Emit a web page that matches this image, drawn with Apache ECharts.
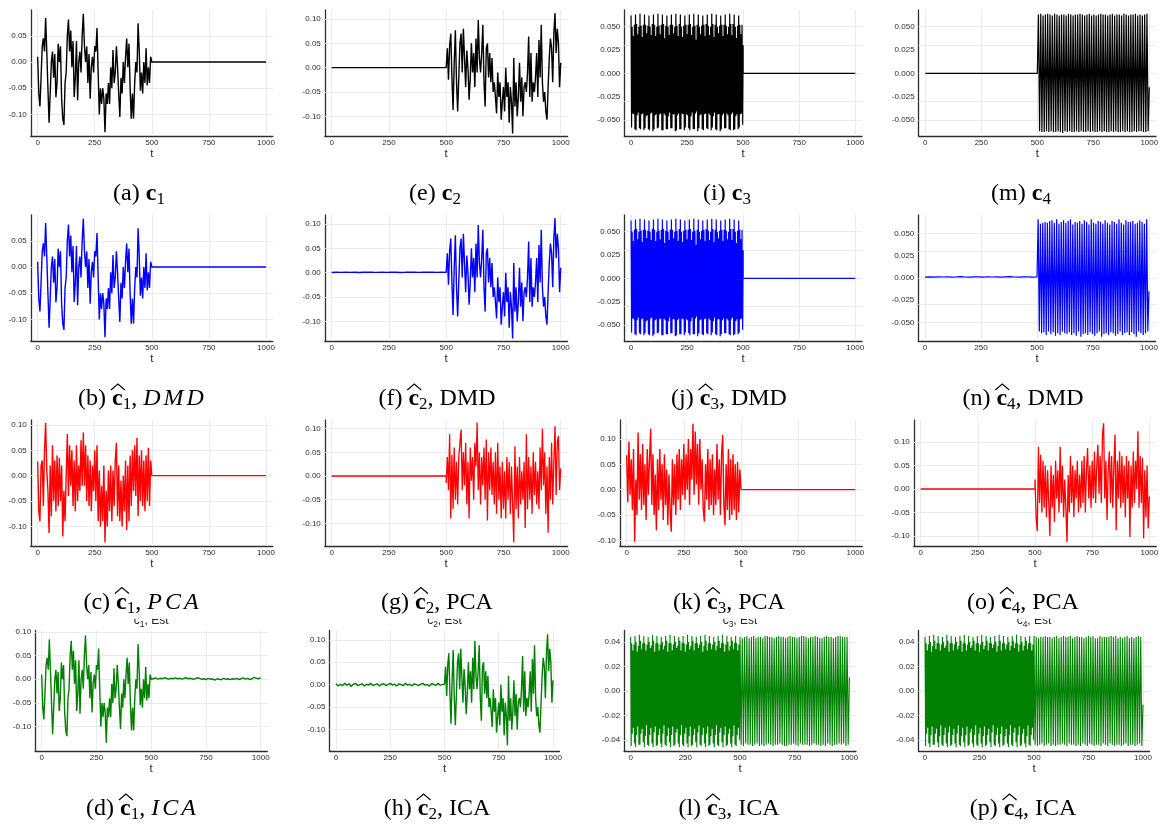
<!DOCTYPE html>
<html>
<head>
<meta charset="utf-8">
<title>Source separation: true and estimated components</title>
<script src="https://cdn.jsdelivr.net/npm/echarts@6/dist/echarts.min.js"></script>
<style>
  html, body { margin: 0; padding: 0; background: #ffffff; }
  #chart { width: 1160px; height: 824px; }
</style>
</head>
<body>
<div id="chart"></div>
<script>
// ---------------------------------------------------------------------------
// Signals (time t = 0 .. 1000). Each array is sampled evenly over the time
// span it is attached to in PANELS below.
// ---------------------------------------------------------------------------
const FLAT = [0, 0];

// c1: active on 0..500 (step 5)
const C1 = [
  .010,-.060,-.085,-.030,.030,.045,.020,.084,.020,-.050,
  -.116,-.060,.000,.020,-.030,.015,-.067,-.040,.035,.000,
  .030,-.070,-.108,-.120,-.040,-.020,.050,.081,.020,.060,
  -.010,.040,-.067,-.030,.040,-.073,.000,.020,-.020,.050,
  .092,.030,.000,.030,-.040,.015,-.070,-.010,.010,-.020,
  .030,.020,.065,-.020,-.100,-.050,-.080,-.050,-.070,-.134,
  -.060,-.080,-.040,-.080,-.010,-.050,.023,-.040,-.020,.030,
  -.010,-.060,-.105,-.030,-.060,.000,-.040,.010,.045,-.010,
  .035,-.050,-.108,-.060,-.108,-.040,.000,-.020,.074,.020,
  -.055,-.020,-.060,.000,-.040,.026,-.045,-.010,-.040,.010,
  .000
];

// c2: active on 500..1000 (step 5)
const C2 = [
  .000,.040,-.025,.045,.070,-.020,-.087,.010,.077,-.030,
  -.090,-.020,.050,.070,-.010,.080,.020,-.040,.035,.000,
  -.066,-.020,.050,-.010,.030,-.040,.060,-.010,.098,.020,
  -.010,.030,.088,-.030,-.080,.040,.050,-.020,.030,-.030,
  .020,-.050,-.030,-.060,-.094,-.010,-.060,-.030,-.107,-.070,
  -.040,-.090,.000,-.060,-.030,-.113,-.040,-.070,-.135,.020,
  -.080,-.030,-.100,-.060,.010,-.070,-.020,-.100,-.040,-.030,
  -.050,-.010,.064,-.060,.030,-.070,-.030,-.050,-.020,.030,
  -.060,.057,-.020,.088,-.030,-.070,-.050,-.090,-.107,-.040,
  .020,.060,.040,-.030,.070,.112,.030,.080,.050,-.040,
  .010
];

// c3: fast carrier with a beating envelope, active on 0..500 (step 2.5)
const C3 = [
  .062,-.058,.050,-.043,.040,-.044,.052,-.060,
  .063,-.061,.053,-.045,.042,-.042,.050,-.059,
  .064,-.060,.051,-.044,.039,-.043,.052,-.061,
  .063,-.059,.052,-.046,.043,-.045,.051,-.060,
  .062,-.061,.050,-.043,.041,-.042,.053,-.062,
  .063,-.060,.052,-.045,.040,-.044,.050,-.059,
  .064,-.058,.051,-.044,.042,-.043,.052,-.061,
  .063,-.061,.053,-.043,.038,-.045,.051,-.060,
  .062,-.060,.050,-.046,.041,-.042,.052,-.059,
  .063,-.059,.052,-.044,.043,-.044,.050,-.062,
  .064,-.061,.051,-.045,.040,-.043,.053,-.060,
  .063,-.060,.050,-.043,.039,-.044,.051,-.061,
  .062,-.058,.052,-.044,.042,-.045,.052,-.059,
  .063,-.061,.053,-.046,.041,-.042,.050,-.060,
  .064,-.060,.051,-.043,.036,-.041,.052,-.062,
  .063,-.059,.050,-.045,.042,-.044,.051,-.060,
  .062,-.061,.052,-.044,.040,-.043,.053,-.059,
  .063,-.060,.051,-.043,.041,-.045,.050,-.061,
  .064,-.058,.053,-.046,.039,-.042,.052,-.060,
  .063,-.061,.050,-.044,.043,-.044,.051,-.062,
  .062,-.060,.052,-.045,.040,-.043,.052,-.059,
  .063,-.059,.051,-.043,.042,-.045,.050,-.060,
  .064,-.061,.053,-.044,.041,-.042,.053,-.061,
  .063,-.060,.050,-.046,.038,-.044,.051,-.060,
  .062,-.058,.052,-.044,.042,-.043,.052,-.055,
  .030
];

// c4: slower oscillation, active on 500..1000
const C4 = [
  .000,
  .063,-.062,.064,-.063,.062,-.063,.063,-.062,
  .064,-.063,.063,-.062,.062,-.063,.064,-.063,
  .063,-.062,.062,-.063,.063,-.064,.063,-.062,
  .062,-.063,.064,-.062,.063,-.063,.062,-.063,
  .063,-.062,.063,-.063,.064,-.062,.063,-.063,
  .062,-.063,.063,-.062,.064,-.063,.062,-.062,
  .063,-.063,.062,-.063,.063,-.062,.064,-.063,
  .063,-.062,.063,-.063,.062,-.063,.063,-.062,
  .064,-.063,.062,-.062,.063,-.063,.063,-.063,
  .062,-.062,.064,-.063,.063,-.062,.062,-.063,
  .063,-.063,.063,-.062,.064,-.063,.062,-.062,
  .063,-.062,.062,-.063,.063,-.063,.064,-.062,
  -.015
];

// DMD estimates (only the parts that differ from the true components)
const DMD_C2_QUIET = [
  .0004,.0009,.0006,.0011,.0007,.0010,.0005,.0009,.0012,.0008,
  .0006,.0010,.0007,.0011,.0009,.0005,.0008,.0012,.0009,.0006,
  .0010,.0008,.0011,.0007,.0009,.0006
];
const DMD_C4_QUIET = [
  .0010,.0012,.0009,.0013,.0011,.0014,.0010,.0012,.0015,.0011,
  .0009,.0013,.0012,.0010,.0014,.0011,.0013,.0009,.0012,.0015,
  .0011,.0010,.0013,.0012,.0009,.0011
];
const DMD_C4 = [
  .001,
  .066,-.060,.061,-.062,.062,-.061,.063,-.064,
  .062,-.060,.064,-.063,.065,-.061,.062,-.065,
  .066,-.062,.061,-.064,.063,-.060,.065,-.062,
  .062,-.063,.064,-.061,.066,-.064,.060,-.062,
  .063,-.065,.062,-.060,.064,-.066,.061,-.063,
  .065,-.062,.063,-.064,.060,-.061,.066,-.063,
  .062,-.065,.061,-.062,.064,-.060,.063,-.066,
  .061,-.063,.065,-.062,.062,-.064,.060,-.061,
  .064,-.062,.063,-.065,.061,-.063,.066,-.060,
  .062,-.064,.060,-.062,.065,-.061,.063,-.064,
  .063,-.061,.064,-.063,.061,-.066,.062,-.060,
  .065,-.062,.063,-.064,.061,-.062,.066,-.060,
  -.015
];

// PCA estimates
const PCA_C1 = [
  .028,-.070,-.090,.020,.030,-.060,.050,.104,.010,-.030,
  -.113,.020,-.080,.060,-.050,.030,-.070,.040,-.060,.035,
  -.050,.020,-.120,-.030,-.090,.000,.082,-.040,.060,-.020,
  .050,-.060,.030,-.070,.060,-.050,.020,-.030,.070,-.020,
  .085,-.020,.060,-.050,.040,-.060,.030,-.070,.020,-.030,
  .050,-.050,.060,-.090,.010,-.100,-.020,-.090,.020,-.132,
  -.030,-.100,.010,-.070,.020,-.090,.010,-.060,.030,.065,
  -.080,.020,-.090,-.010,-.100,.000,-.070,.030,-.107,.020,
  -.090,.040,-.060,.050,-.030,.060,-.040,.075,-.080,.040,
  -.050,.050,-.060,.030,-.070,.040,-.050,.055,-.060,.030,
  .000
];
const PCA_C2 = [
  -.015,.040,-.030,.088,-.090,.045,-.070,.060,-.050,.030,
  -.060,.040,.070,.098,-.030,.050,-.020,.070,-.060,.030,
  -.090,.060,-.010,.040,-.050,.070,.020,.113,-.030,.050,
  -.060,.040,-.020,.060,-.050,.077,-.094,.050,-.030,.060,
  -.040,.030,-.060,.050,-.080,.070,-.050,.020,-.090,.030,
  -.070,.010,-.090,.040,-.050,.030,-.080,.020,-.060,-.140,
  .063,-.070,.020,-.090,.040,-.060,.010,-.050,.030,-.110,
  .088,-.070,.040,-.050,.020,-.080,.050,-.040,.030,-.060,
  .010,-.070,.060,-.030,.100,-.020,.050,-.080,.020,-.120,
  .040,-.050,.070,-.060,.030,.105,-.040,.070,.085,-.030,
  .016
];
const PCA_C3 = [
  .068,-.025,.095,-.010,.060,-.040,.080,-.103,.020,-.050,
  .113,-.020,.070,-.040,.090,-.030,.050,-.060,.080,-.010,
  .060,.120,-.030,.070,-.050,.030,-.080,.060,-.040,.080,
  -.020,.050,-.060,.070,-.030,.040,-.070,.030,-.040,-.083,
  .060,-.030,.050,-.050,.070,-.020,.080,-.040,.060,-.010,
  .090,-.020,.070,.000,.100,-.030,.080,.020,.130,-.010,
  .115,.010,.090,-.030,.100,.000,.060,-.040,-.063,.050,
  -.020,.080,-.040,.060,-.030,.070,-.050,.040,-.030,.090,
  -.020,.060,-.050,.070,.108,-.030,-.070,.050,-.040,.080,
  -.060,.060,-.050,.070,-.040,.050,-.060,.055,-.045,.040,
  .000
];
const PCA_C4 = [
  .020,-.060,-.090,.090,-.030,.073,-.050,.060,-.040,.050,
  -.060,.040,-.030,-.100,.050,-.040,.030,-.070,.060,-.020,
  .040,-.050,.090,-.030,.050,-.060,.020,-.040,-.113,.030,
  -.050,.070,-.030,.050,-.060,.040,-.020,.060,-.050,.030,
  -.040,.060,-.030,.070,-.050,.040,.087,-.020,.050,-.040,
  .060,-.020,.080,-.030,.050,.094,-.010,.070,-.030,.116,
  .140,-.020,.060,-.066,.040,.080,-.030,.070,-.040,.050,
  .116,-.088,.060,-.020,.080,-.040,.070,-.030,.050,-.060,
  .070,-.020,.060,-.102,.050,-.040,.080,-.030,.060,.000,
  .123,-.040,.070,-.030,.066,-.105,.040,-.060,.050,-.084,
  -.016
];

// ICA estimates
const ICA_C1_QUIET = [
  .002,.001,.003,.000,.002,.001,.003,.002,.000,.002,
  .001,.003,.001,.002,.000,.002,.003,.001,.002,.000,
  .001,.003,.002,.000,.001,-.001,.002,.000,.001,-.002,
  .001,.000,-.001,.002,.000,.001,-.001,.001,.000,.002,
  -.001,.001,.003,.000,.002,-.001,.001,.004,.002,.001,
  .003
];
const ICA_C2_QUIET = [
  .002,-.003,.001,-.002,.003,-.001,.002,-.004,.001,.003,
  -.002,.000,.002,-.003,.001,-.001,.003,-.002,.000,.002,
  -.003,.001,.002,-.002,.000,.003,-.001,.001,-.003,.002,
  .000,-.002,.003,-.001,.001,-.003,.002,.000,-.002,.001,
  .003,-.001,.000,-.003,.002,.001,-.002,.003,-.001,.000,
  .001
];
const ICA_DENSE = [
  .044,-.045,.039,-.035,.033,-.030,.038,-.043,
  .045,-.046,.040,-.036,.032,-.029,.037,-.044,
  .046,-.044,.041,-.035,.034,-.031,.039,-.042,
  .045,-.046,.039,-.037,.033,-.028,.038,-.044,
  .044,-.045,.040,-.036,.035,-.030,.037,-.043,
  .046,-.046,.041,-.034,.032,-.029,.039,-.045,
  .045,-.044,.039,-.036,.033,-.031,.038,-.043,
  .044,-.046,.040,-.035,.034,-.028,.037,-.044,
  .045,-.045,.041,-.037,.032,-.030,.039,-.042,
  .046,-.046,.039,-.036,.033,-.029,.038,-.045,
  .045,-.044,.040,-.034,.035,-.031,.037,-.043,
  .044,-.046,.041,-.036,.033,-.028,.039,-.044,
  .045,-.045,.039,-.035,.032,-.030,.038,-.043,
  .046,-.046,.040,-.037,.034,-.029,.037,-.045,
  .045,-.044,.041,-.036,.033,-.031,.039,-.042,
  .044,-.046,.039,-.034,.035,-.028,.038,-.044,
  .045,-.045,.040,-.036,.032,-.030,.037,-.043,
  .046,-.046,.041,-.035,.033,-.029,.039,-.045,
  .045,-.044,.039,-.037,.034,-.031,.038,-.043,
  .044,-.046,.040,-.036,.033,-.028,.037,-.044,
  .045,-.045,.041,-.034,.035,-.030,.039,-.042,
  .046,-.046,.039,-.036,.032,-.029,.038,-.045,
  .045,-.044,.040,-.035,.033,-.031,.037,-.043,
  .044,-.046,.041,-.037,.034,-.028,.039,-.044,
  .045,-.045,.039,-.036,.033,-.030,.038,-.040,
  .020
];
const ICA_C3_WAVE = [
  .044,-.044,.043,-.045,.044,-.043,.045,-.044,
  .043,-.044,.044,-.045,.045,-.044,.043,-.043,
  .044,-.045,.044,-.044,.043,-.045,.045,-.044,
  .045,-.043,.044,-.044,.044,-.045,.043,-.044,
  .044,-.044,.045,-.043,.044,-.044,.044,-.045,
  .043,-.045,.044,-.044,.045,-.044,.044,-.043,
  .044,-.044,.043,-.045,.044,-.043,.045,-.044,
  .045,-.044,.044,-.044,.043,-.045,.044,-.044,
  .044,-.043,.045,-.044,.044,-.044,.043,-.045,
  .043,-.044,.044,-.045,.045,-.043,.044,-.044,
  .044,-.045,.043,-.044,.044,-.044,.045,-.043,
  .045,-.044,.044,-.043,.044,-.045,.044,-.044,
  .011
];
const ICA_C4_WAVE = [
  .045,-.044,.044,-.045,.043,-.044,.044,-.043,
  .044,-.045,.045,-.044,.044,-.043,.044,-.045,
  .043,-.044,.044,-.045,.045,-.044,.043,-.044,
  .044,-.043,.045,-.044,.044,-.045,.044,-.043,
  .045,-.044,.043,-.044,.044,-.045,.045,-.044,
  .044,-.045,.044,-.043,.043,-.044,.044,-.045,
  .045,-.043,.044,-.044,.045,-.045,.043,-.044,
  .043,-.044,.045,-.045,.044,-.043,.044,-.044,
  .044,-.045,.044,-.043,.045,-.044,.044,-.045,
  .045,-.044,.043,-.044,.044,-.045,.043,-.044,
  .044,-.043,.045,-.045,.043,-.044,.044,-.044,
  .043,-.045,.044,-.044,.045,-.043,.044,-.045,
  -.011
];

// Axis ticks
const X_TICKS = [0, 250, 500, 750, 1000];
const Y_TICKS_A = [-0.10, -0.05, 0.00, 0.05];
const Y_TICKS_B = [-0.10, -0.05, 0.00, 0.05, 0.10];
const Y_TICKS_OSC = [-0.050, -0.025, 0.000, 0.025, 0.050];
const Y_TICKS_ICA = [-0.04, -0.02, 0.00, 0.02, 0.04];

// Caption texts
const METHODS = ['', 'DMD', 'PCA', 'ICA'];
const LETTERS = [['a', 'b', 'c', 'd'], ['e', 'f', 'g', 'h'], ['i', 'j', 'k', 'l'], ['m', 'n', 'o', 'p']];
const EST_TITLE = ', Est';

// ---------------------------------------------------------------------------
// Layout
// ---------------------------------------------------------------------------
const BLACK = '#000000', BLUE = '#0000ff', RED = '#ff0000', GREEN = '#008000';
const ROWS = [
  { top: 10,    height: 126,   base: 199.5 },
  { top: 215,   height: 126,   base: 405 },
  { top: 420,   height: 126,   base: 608.5 },
  { top: 630.5, height: 120.5, base: 815 }
];
const CAPTION_X = [[139, 435, 727, 1021], [141, 437, 729, 1023], [141, 437, 729, 1023], [141, 437, 729, 1023]];

// row, col, plot left/right edge, y range, ticks, decimals, colour, line width, signal segments
const PANELS = [
  { row: 0, col: 0, L: 30.8,  R: 272.8,  y: [-0.1412, 0.0992], ticks: Y_TICKS_A,   dec: 2, color: BLACK, lw: 1.4, segs: [[C1, 0, 500], [FLAT, 500, 1000]] },
  { row: 0, col: 1, L: 324.8, R: 567.6,  y: [-0.1404, 0.1185], ticks: Y_TICKS_B,   dec: 2, color: BLACK, lw: 1.4, segs: [[FLAT, 0, 500], [C2, 500, 1000]] },
  { row: 0, col: 2, L: 624.3, R: 862.0,  y: [-0.0672, 0.0679], ticks: Y_TICKS_OSC, dec: 3, color: BLACK, lw: 1.2, segs: [[C3, 0, 500], [FLAT, 500, 1000]] },
  { row: 0, col: 3, L: 918.6, R: 1156.0, y: [-0.0672, 0.0679], ticks: Y_TICKS_OSC, dec: 3, color: BLACK, lw: 1.2, segs: [[FLAT, 0, 500], [C4, 500, 1000]] },

  { row: 1, col: 0, L: 30.8,  R: 272.8,  y: [-0.1412, 0.0992], ticks: Y_TICKS_A,   dec: 2, color: BLUE, lw: 1.4, segs: [[C1, 0, 500], [FLAT, 500, 1000]] },
  { row: 1, col: 1, L: 324.8, R: 567.6,  y: [-0.1404, 0.1185], ticks: Y_TICKS_B,   dec: 2, color: BLUE, lw: 1.4, segs: [[DMD_C2_QUIET, 0, 500], [C2, 500, 1000]] },
  { row: 1, col: 2, L: 624.3, R: 862.0,  y: [-0.0672, 0.0679], ticks: Y_TICKS_OSC, dec: 3, color: BLUE, lw: 1.2, segs: [[C3, 0, 500], [FLAT, 500, 1000]] },
  { row: 1, col: 3, L: 918.3, R: 1155.7, y: [-0.0708, 0.0708], ticks: Y_TICKS_OSC, dec: 3, color: BLUE, lw: 1.2, segs: [[DMD_C4_QUIET, 0, 500], [DMD_C4, 500, 1000]] },

  { row: 2, col: 0, L: 30.8,  R: 272.8,  y: [-0.1387, 0.1098], ticks: Y_TICKS_B, dec: 2, color: RED, lw: 1.4, segs: [[PCA_C1, 0, 500], [FLAT, 500, 1000]] },
  { row: 2, col: 1, L: 324.8, R: 567.6,  y: [-0.1479, 0.1183], ticks: Y_TICKS_B, dec: 2, color: RED, lw: 1.3, segs: [[FLAT, 0, 500], [PCA_C2, 500, 1000]] },
  { row: 2, col: 2, L: 619.8, R: 862.2,  y: [-0.1112, 0.1375], ticks: Y_TICKS_B, dec: 2, color: RED, lw: 1.4, segs: [[PCA_C3, 0, 500], [FLAT, 500, 1000]] },
  { row: 2, col: 3, L: 913.8, R: 1156.2, y: [-0.1213, 0.1468], ticks: Y_TICKS_B, dec: 2, color: RED, lw: 1.3, segs: [[FLAT, 0, 500], [PCA_C4, 500, 1000]] },

  { row: 3, col: 0, L: 35.1,  R: 267.3,  y: [-0.1514, 0.1028], ticks: Y_TICKS_B,   dec: 2, color: GREEN, lw: 1.4, segs: [[C1, 0, 500], [ICA_C1_QUIET, 500, 1000]] },
  { row: 3, col: 1, L: 329.5, R: 559.5,  y: [-0.1476, 0.1206], ticks: Y_TICKS_B,   dec: 2, color: GREEN, lw: 1.4, segs: [[ICA_C2_QUIET, 0, 500], [C2, 500, 1000]] },
  { row: 3, col: 2, L: 624.1, R: 855.9,  y: [-0.0491, 0.0494], ticks: Y_TICKS_ICA, dec: 2, color: GREEN, lw: 1.1, segs: [[ICA_DENSE, 0, 500], [ICA_C3_WAVE, 500, 1000]] },
  { row: 3, col: 3, L: 918.5, R: 1149.5, y: [-0.0491, 0.0494], ticks: Y_TICKS_ICA, dec: 2, color: GREEN, lw: 1.1, segs: [[ICA_DENSE, 0, 500], [ICA_C4_WAVE, 500, 1000]] }
];

// spread a value array evenly over [t0, t1]
function segment(values, t0, t1) {
  const n = values.length - 1;
  return values.map((v, i) => [t0 + (t1 - t0) * i / n, v]);
}

const AXIS_COLOR = '#2e2e2e';
const LABEL_COLOR = '#2e2e2e';
const GRID_COLOR = '#e6e6e6';
const TICK_FONT = 'Liberation Sans';

const grids = [], xAxes = [], yAxes = [], series = [];
PANELS.forEach((p, i) => {
  const r = ROWS[p.row];
  grids.push({ left: p.L, top: r.top, width: p.R - p.L, height: r.height, outerBoundsMode: 'none', containLabel: false });
  xAxes.push({
    type: 'value', gridIndex: i, min: -30, max: 1030,
    axisLine: { show: true, onZero: false, lineStyle: { color: AXIS_COLOR, width: 1.3 } },
    axisTick: { show: false },
    splitLine: { show: false },
    axisLabel: { customValues: X_TICKS, fontSize: 8, fontFamily: TICK_FONT, color: LABEL_COLOR, margin: 3, formatter: v => String(v) },
    name: 't', nameLocation: 'middle', nameGap: 12,
    nameTextStyle: { fontSize: 11.5, fontFamily: TICK_FONT, color: AXIS_COLOR }
  });
  yAxes.push({
    type: 'value', gridIndex: i, min: p.y[0], max: p.y[1],
    axisLine: { show: true, onZero: false, lineStyle: { color: AXIS_COLOR, width: 1.3 } },
    axisTick: { show: false },
    splitLine: { show: false },
    axisLabel: { customValues: p.ticks, fontSize: 8, fontFamily: TICK_FONT, color: LABEL_COLOR, margin: 4, formatter: v => v.toFixed(p.dec) }
  });
  // light grid lines at tick values, under the signal
  series.push({
    type: 'line', xAxisIndex: i, yAxisIndex: i, data: [], silent: true, z: 1,
    markLine: {
      silent: true, z: 1, symbol: ['none', 'none'], animation: false,
      label: { show: false },
      emphasis: { disabled: true },
      lineStyle: { color: GRID_COLOR, width: 0.8, type: 'solid' },
      data: X_TICKS.map(v => ({ xAxis: v })).concat(p.ticks.map(v => ({ yAxis: v })))
    }
  });
  let data = [];
  p.segs.forEach(s => { data = data.concat(segment(s[0], s[1], s[2])); });
  series.push({
    type: 'line', xAxisIndex: i, yAxisIndex: i, data: data, z: 2,
    showSymbol: false, symbol: 'none', silent: true, clip: true,
    lineStyle: { color: p.color, width: p.lw },
    emphasis: { disabled: true }
  });
});

// ---------------------------------------------------------------------------
// Captions (serif, with bold vectors, subscripts and hats)
// ---------------------------------------------------------------------------
const measureCtx = document.createElement('canvas').getContext('2d');
function textWidth(text, font) {
  measureCtx.font = font;
  return measureCtx.measureText(text).width;
}
function middleToBaseline(font) {
  measureCtx.font = font;
  measureCtx.textBaseline = 'middle';
  const m = measureCtx.measureText('H');
  measureCtx.textBaseline = 'alphabetic';
  return m.actualBoundingBoxDescent;
}
function layoutLine(pieces, cx, baseline, z) {
  let total = 0;
  pieces.forEach(p => { p.w = textWidth(p.text, p.font); total += p.w + (p.gap || 0); });
  total -= (pieces[pieces.length - 1].gap || 0);
  let x = cx - total / 2;
  const els = [];
  pieces.forEach(p => {
    const base = baseline + (p.dy || 0);
    els.push({
      type: 'text', x: x, y: base - middleToBaseline(p.font), z: z, silent: true,
      style: { text: p.text, font: p.font, fill: p.fill || '#000', align: 'left', textAlign: 'left', verticalAlign: 'middle', textVerticalAlign: 'middle' }
    });
    if (p.hat) {
      const c = x + p.w / 2 + 0.5;
      els.push({
        type: 'polyline', z: z, silent: true,
        shape: { points: [[c - p.hat.w / 2, baseline - p.hat.lo], [c, baseline - p.hat.hi], [c + p.hat.w / 2, baseline - p.hat.lo]] },
        style: { stroke: '#000', lineWidth: 1.1, fill: null }
      });
    }
    x += p.w + (p.gap || 0);
  });
  return els;
}

const SERIF = '"Liberation Serif", "Times New Roman", serif';
const F_REG = '24px ' + SERIF;
const F_BOLD = 'bold 24px ' + SERIF;
const F_ITAL = 'italic 24px ' + SERIF;
const F_SUB = '17px ' + SERIF;
const HAT = { w: 14, lo: 15, hi: 21 };

const graphics = [];
for (let col = 0; col < 4; col++) {
  for (let row = 0; row < 4; row++) {
    const idx = String(col + 1);
    const pieces = [
      { text: '(' + LETTERS[col][row] + ') ', font: F_REG },
      { text: 'c', font: F_BOLD, hat: row > 0 ? HAT : null },
      { text: idx, font: F_SUB, dy: 4 }
    ];
    if (row > 0) {
      pieces.push({ text: ', ', font: F_REG });
      if (col === 0) {
        METHODS[row].split('').forEach((ch, k, arr) => pieces.push({ text: ch, font: F_ITAL, gap: k < arr.length - 1 ? 3 : 0 }));
      } else {
        pieces.push({ text: METHODS[row], font: F_REG });
      }
    }
    layoutLine(pieces, CAPTION_X[row][col], ROWS[row].base, 12).forEach(e => graphics.push(e));
  }
}

// small panel titles of the bottom row, cut off at their top edge
PANELS.filter(p => p.row === 3).forEach(p => {
  const cx = (p.L + p.R) / 2;
  const pieces = [
    { text: 'c', font: '12px "Liberation Sans"', fill: '#222' },
    { text: String(p.col + 1), font: '8.5px "Liberation Sans"', dy: 3, fill: '#222' },
    { text: EST_TITLE, font: '12px "Liberation Sans"', fill: '#222' }
  ];
  layoutLine(pieces, cx, 624, 10).forEach(e => graphics.push(e));
  graphics.push({
    type: 'rect', z: 11, silent: true,
    shape: { x: cx - 30, y: 609, width: 60, height: 9.8 },
    style: { fill: '#ffffff' }
  });
});

const chart = echarts.init(document.getElementById('chart'), null, { renderer: 'canvas' });
chart.setOption({
  animation: false,
  backgroundColor: '#ffffff',
  grid: grids,
  xAxis: xAxes,
  yAxis: yAxes,
  series: series,
  graphic: { elements: graphics }
});
</script>
</body>
</html>
